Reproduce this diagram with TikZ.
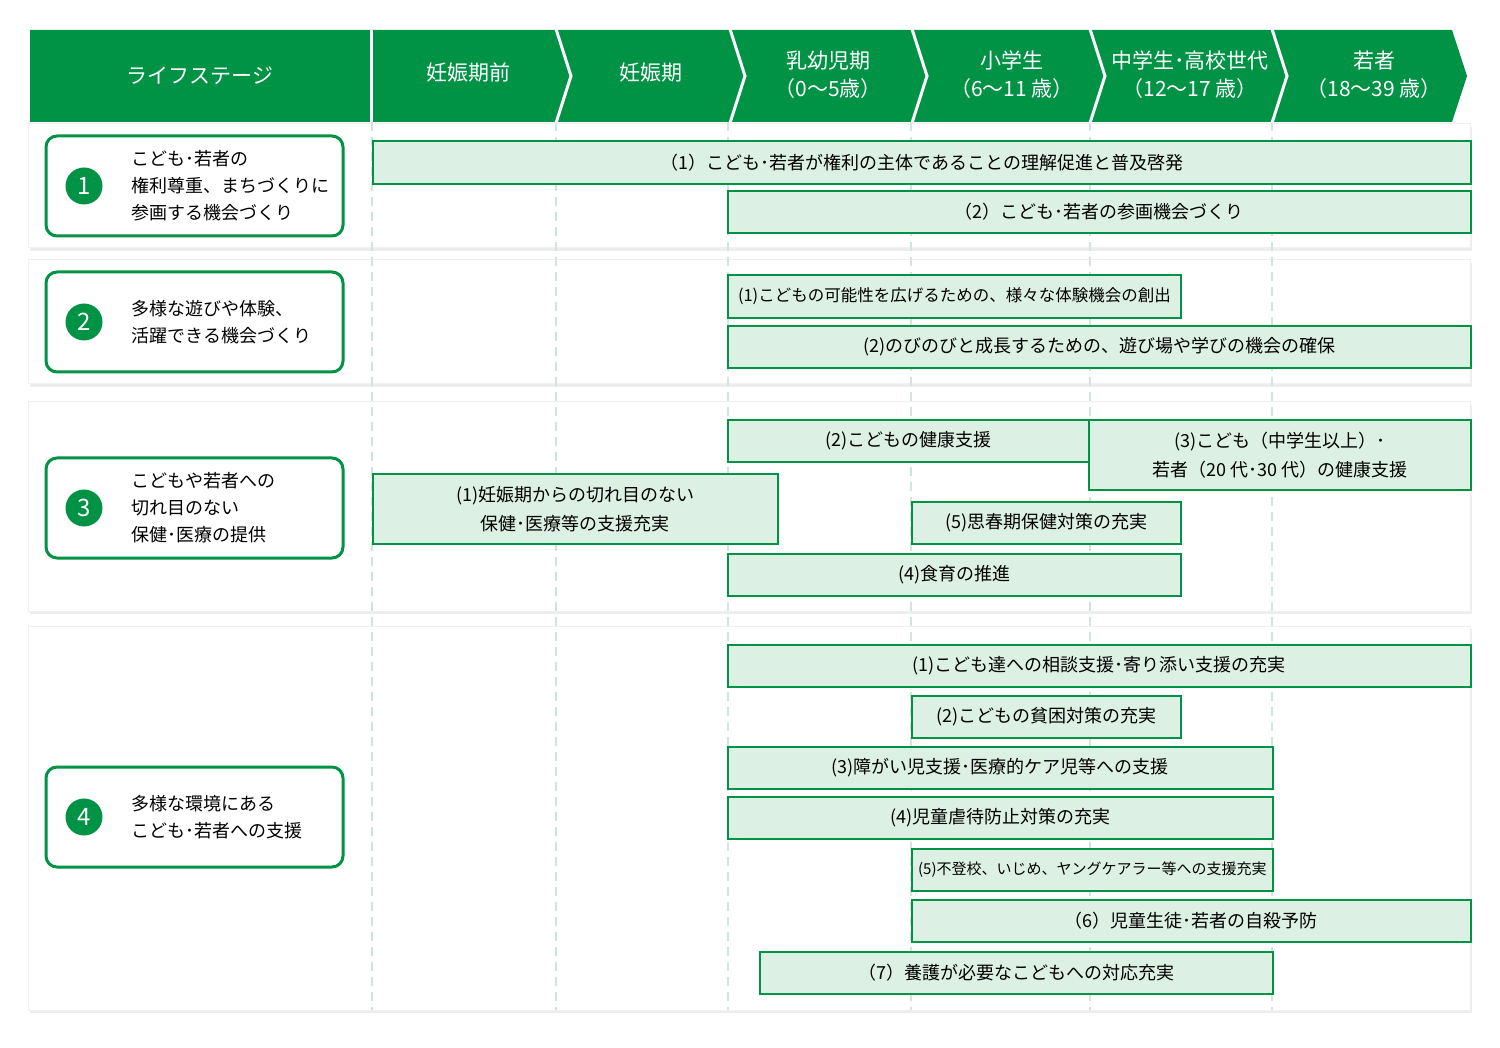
\documentclass[tikz,border=0pt]{standalone}
\usepackage{fontspec}
\newfontfamily\jp{Noto Sans CJK JP}
\usetikzlibrary{positioning}
\definecolor{lgreen}{HTML}{009245}
\definecolor{lfill}{HTML}{DDF0E4}
\definecolor{ldash}{HTML}{CFE6D9}
\tikzset{
  barbox/.style={draw=lgreen, line width=1.8pt, fill=lfill, anchor=north west, inner sep=0pt,
    align=center, font=\jp\fontsize{18}{29}\selectfont},
  stagebox/.style={draw=lgreen, line width=3pt, rounded corners=11pt, fill=white},
  numdot/.style={circle, fill=lgreen, minimum size=37pt, inner sep=0pt, text=white,
    font=\jp\fontsize{24}{24}\selectfont},
  stagetext/.style={anchor=west, align=left, font=\jp\fontsize{18}{27}\selectfont},
  headtext/.style={text=white, align=center, font=\jp\fontsize{21}{28}\selectfont},
  panel/.style={fill=white, draw=black!6, line width=1pt}
}
\begin{document}
\begin{tikzpicture}[x=1pt, y=-1pt]
  \useasboundingbox (0,0) rectangle (1500,1048);
  % panels
  \foreach \ya/\yb in {124/248, 260/384, 402/611, 626/1010} {
    \fill[black!7] (30,\ya+3) rectangle (1472,\yb+3);
    \draw[panel] (28,\ya) rectangle (1470,\yb);
  }
  % dashed guides
  \foreach \xx in {372, 556, 728, 911, 1090, 1272}
    \draw[ldash, line width=1.2pt, dash pattern=on 9pt off 6pt] (\xx,122) -- (\xx,1010);
  % header
  \fill[lgreen] (30,30) -- (1452,30) -- (1467,76) -- (1452,122) -- (30,122) -- cycle;
  \draw[white, line width=3pt] (371,30) -- (371,122);
  \foreach \xx in {556, 730, 912, 1090, 1272}
    \draw[white, line width=3pt] (\xx,29) -- (\xx+15,76) -- (\xx,123);
  \node[headtext] (h0) at (200,76) {ライフステージ};
  \node[headtext] (h1) at (468,73) {妊娠期前};
  \node[headtext] (h2) at (651,73) {妊娠期};
  \node[headtext] (h3) at (828,75) {乳幼児期\\（0～5歳）};
  \node[headtext] (h4) at (1012,75) {小学生\\（6～11 歳）};
  \node[headtext] (h5) at (1190,75) {中学生･高校世代\\（12～17 歳）};
  \node[headtext] (h6) at (1374,75) {若者\\（18～39 歳）};
  % stages
  \foreach \yc/\nn/\txt in {186/1/{こども･若者の\\権利尊重、まちづくりに\\参画する機会づくり},
      322/2/{多様な遊びや体験、\\活躍できる機会づくり},
      508/3/{こどもや若者への\\切れ目のない\\保健･医療の提供},
      817/4/{多様な環境にある\\こども･若者への支援}} {
    \draw[stagebox] (46,\yc-50) rectangle (343,\yc+50);
    \node[numdot] (n\nn) at (84,\yc) {\nn};
    \node[stagetext] (s\nn) at (128,\yc) {\txt};
  }
  % area 1
  \node[barbox, minimum width=1098pt, minimum height=43pt] (a11) at (372,140) {（1）こども･若者が権利の主体であることの理解促進と普及啓発};
  \node[barbox, minimum width=743pt, minimum height=42pt] (a12) at (727,190) {（2）こども･若者の参画機会づくり};
  % area 2
  \node[barbox, minimum width=453pt, minimum height=43pt, font=\jp\fontsize{16.5}{20}\selectfont] (a21) at (727,274) {(1)こどもの可能性を広げるための、様々な体験機会の創出};
  \node[barbox, minimum width=743pt, minimum height=42pt] (a22) at (727,325) {(2)のびのびと成長するための、遊び場や学びの機会の確保};
  % area 3
  \node[barbox, minimum width=361pt, minimum height=42pt] (a32) at (727,419) {(2)こどもの健康支援};
  \node[barbox, minimum width=382pt, minimum height=70pt] (a33) at (1088,419) {(3)こども（中学生以上）･\\若者（20 代･30 代）の健康支援};
  \node[barbox, minimum width=405pt, minimum height=70pt] (a31) at (372,473) {(1)妊娠期からの切れ目のない\\保健･医療等の支援充実};
  \node[barbox, minimum width=269pt, minimum height=42pt] (a35) at (911,501) {(5)思春期保健対策の充実};
  \node[barbox, minimum width=453pt, minimum height=42pt] (a34) at (727,553) {(4)食育の推進};
  % area 4
  \node[barbox, minimum width=743pt, minimum height=42pt] (a41) at (727,644) {(1)こども達への相談支援･寄り添い支援の充実};
  \node[barbox, minimum width=269pt, minimum height=42pt] (a42) at (911,695) {(2)こどもの貧困対策の充実};
  \node[barbox, minimum width=545pt, minimum height=42pt] (a43) at (727,746) {(3)障がい児支援･医療的ケア児等への支援};
  \node[barbox, minimum width=545pt, minimum height=42pt] (a44) at (727,796) {(4)児童虐待防止対策の充実};
  \node[barbox, minimum width=361pt, minimum height=42pt, font=\jp\fontsize{15}{20}\selectfont] (a45) at (911,848) {(5)不登校、いじめ、ヤングケアラー等への支援充実};
  \node[barbox, minimum width=559pt, minimum height=42pt] (a46) at (911,899) {（6）児童生徒･若者の自殺予防};
  \node[barbox, minimum width=513pt, minimum height=42pt] (a47) at (759,951) {（7）養護が必要なこどもへの対応充実};
\end{tikzpicture}
\end{document}
